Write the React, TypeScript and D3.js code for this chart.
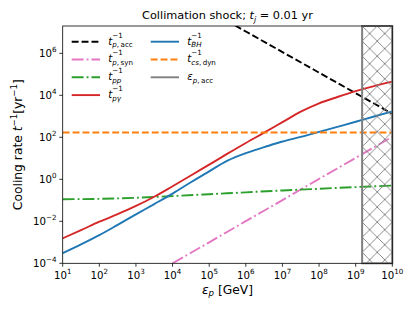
import React, { useRef, useEffect } from "react";
import * as d3 from "d3";

// values: log10(energy / GeV) and log10(rate / yr^-1)
const logE = [1, 1.5, 2, 2.5, 3, 3.5, 4, 4.5, 5, 5.5, 6, 6.5, 7, 7.5, 8, 8.5, 9, 9.5, 10];
const pgLog = [-2.81, -2.42, -2.02, -1.66, -1.27, -0.83, -0.33, 0.18, 0.7, 1.22, 1.73, 2.22, 2.72, 3.22, 3.62, 3.92, 4.2, 4.44, 4.65];
const bhLog = [-3.52, -3.1, -2.66, -2.17, -1.67, -1.18, -0.68, -0.14, 0.38, 0.89, 1.25, 1.53, 1.8, 2.02, 2.26, 2.5, 2.74, 2.99, 3.23];
const ppE = [1, 2, 3, 4, 5, 6, 7, 8, 9, 10];
const ppLog = [-0.95, -0.93, -0.88, -0.8, -0.71, -0.62, -0.53, -0.45, -0.37, -0.3];
const synE = [4, 5, 6, 7, 8, 9, 10];
const synLog = [-4, -3.0, -1.99, -0.99, 0.02, 1.02, 2.03];
const accE = [5, 6, 7, 8, 9, 10];
const accLog = [8.02, 7.04, 6.06, 5.08, 4.1, 3.12];
const dynE = [1, 10];
const dynLog = [2.23, 2.23];
const epsAcc = 1.5e9;

const xTicks = [1, 2, 3, 4, 5, 6, 7, 8, 9, 10];
const yTicks = [-4, -2, 0, 2, 4, 6];

type Part = { s: string; it?: boolean; pos?: "sup" | "sub" };

const series = [
  { key: "acc", e: accE, v: accLog, color: "#000000", dash: "6.9,3" },
  { key: "syn", e: synE, v: synLog, color: "#e377c2", dash: "11.9,3,1.9,3" },
  { key: "pp", e: ppE, v: ppLog, color: "#2ca02c", dash: "11.9,3,1.9,3" },
  { key: "pg", e: logE, v: pgLog, color: "#d62728", dash: "" },
  { key: "bh", e: logE, v: bhLog, color: "#1f77b4", dash: "" },
  { key: "dyn", e: dynE, v: dynLog, color: "#ff7f0e", dash: "6.9,3" },
];

const tInv = (sub: Part[]): Part[] => [{ s: "t", it: true }, { s: "\u22121", pos: "sup" }, ...sub];

const legend: { col: number; row: number; color: string; dash: string; label: Part[] }[] = [
  { col: 0, row: 0, color: "#000000", dash: "6.9,3", label: tInv([{ s: "p", it: true, pos: "sub" }, { s: ",\u2009acc", pos: "sub" }]) },
  { col: 0, row: 1, color: "#e377c2", dash: "11.9,3,1.9,3", label: tInv([{ s: "p", it: true, pos: "sub" }, { s: ",\u2009syn", pos: "sub" }]) },
  { col: 0, row: 2, color: "#2ca02c", dash: "11.9,3,1.9,3", label: tInv([{ s: "pp", it: true, pos: "sub" }]) },
  { col: 0, row: 3, color: "#d62728", dash: "", label: tInv([{ s: "p\u03b3", it: true, pos: "sub" }]) },
  { col: 1, row: 0, color: "#1f77b4", dash: "", label: tInv([{ s: "BH", it: true, pos: "sub" }]) },
  { col: 1, row: 1, color: "#ff7f0e", dash: "6.9,3", label: tInv([{ s: "cs", it: true, pos: "sub" }, { s: ",\u2009dyn", pos: "sub" }]) },
  { col: 1, row: 2, color: "#7f7f7f", dash: "", label: [{ s: "\u03b5", it: true }, { s: "p", it: true, pos: "sub" }, { s: ",\u2009acc", pos: "sub" }] },
];

const W = 415;
const H = 312;
const L = 62.7, R = 392.3, T = 26, B = 263.3;
const FONT = "DejaVu Sans";

type G = d3.Selection<SVGGElement, unknown, null, undefined>;

// lays out text with sub/superscripts, returns the total advance width
function mathText(g: G, parts: Part[], fs: number, up: number, down: number) {
  const text = g.append("text").attr("font-size", fs).attr("font-family", FONT).attr("fill", "#000").style("white-space", "pre");
  let cur = 0, sStart = 0, posCur = 0, groupEnd = 0;
  let last: string | null = null;
  parts.forEach((p) => {
    let x0 = cur;
    if (p.pos) {
      if (last === null) { sStart = cur; groupEnd = cur; x0 = cur; }
      else if (last !== p.pos) x0 = sStart;
      else x0 = posCur;
    }
    const ts = text.append("tspan")
      .attr("x", x0)
      .attr("y", p.pos === "sup" ? -up : p.pos === "sub" ? down : 0)
      .attr("font-size", p.pos ? fs * 0.7 : fs)
      .attr("font-style", p.it ? "italic" : "normal")
      .text(p.s);
    const w = (ts.node() as SVGTSpanElement).getComputedTextLength();
    if (p.pos) {
      posCur = x0 + w;
      groupEnd = Math.max(groupEnd, posCur);
      cur = groupEnd;
      last = p.pos;
    } else {
      cur = x0 + w;
      last = null;
    }
  });
  return cur;
}

export default function App() {
  const ref = useRef<SVGSVGElement>(null);

  useEffect(() => {
    if (!ref.current) return;
    document.body.style.margin = "0";
    const svg = d3.select(ref.current);
    svg.selectAll("*").remove();

    const x = d3.scaleLog().domain([10, 1e10]).range([L, R]);
    const y = d3.scaleLog().domain([1e-4, 2e7]).range([B, T]);

    const defs = svg.append("defs");
    defs.append("clipPath").attr("id", "plot").append("rect")
      .attr("x", L).attr("y", T).attr("width", R - L).attr("height", B - T);
    const hw = (R - x(epsAcc)) / 2;
    const pat = defs.append("pattern").attr("id", "hatch")
      .attr("patternUnits", "userSpaceOnUse")
      .attr("x", x(epsAcc)).attr("y", T)
      .attr("width", hw).attr("height", hw);
    pat.append("path")
      .attr("d", `M-1,-1L${hw + 1},${hw + 1}M-1,${hw + 1}L${hw + 1},-1`)
      .attr("stroke", "#7f7f7f").attr("stroke-width", 0.9).attr("fill", "none");

    svg.append("rect").attr("width", W).attr("height", H).attr("fill", "#fff");

    const plot = svg.append("g").attr("clip-path", "url(#plot)");

    // hatched region beyond the maximum accelerated energy
    svg.append("rect")
      .attr("x", x(epsAcc)).attr("y", T)
      .attr("width", R - x(epsAcc)).attr("height", B - T)
      .attr("fill", "url(#hatch)").attr("stroke", "#7f7f7f").attr("stroke-width", 2);

    const line = d3.line<[number, number]>()
      .x((d) => x(10 ** d[0]))
      .y((d) => y(10 ** d[1]))
      .curve(d3.curveMonotoneX);

    series.forEach((s) => {
      plot.append("path")
        .datum(s.e.map((e, i) => [e, s.v[i]] as [number, number]))
        .attr("d", line)
        .attr("fill", "none")
        .attr("stroke", s.color)
        .attr("stroke-width", 1.9)
        .attr("stroke-dasharray", s.dash || null);
    });

    // spines
    svg.append("rect").attr("x", L).attr("y", T).attr("width", R - L).attr("height", B - T)
      .attr("fill", "none").attr("stroke", "#000").attr("stroke-width", 0.8);

    // x ticks
    xTicks.forEach((t) => {
      const px = x(10 ** t);
      svg.append("line").attr("x1", px).attr("x2", px).attr("y1", B).attr("y2", B + 3.4)
        .attr("stroke", "#000").attr("stroke-width", 0.8);
      const g = svg.append("g");
      const w = mathText(g, [{ s: "10" }, { s: String(t), pos: "sup" }], 10.2, 5.2, 0);
      g.attr("transform", `translate(${px - w / 2},279.3)`);
    });

    // y ticks
    yTicks.forEach((t) => {
      const py = y(10 ** t);
      svg.append("line").attr("x1", L - 3.4).attr("x2", L).attr("y1", py).attr("y2", py)
        .attr("stroke", "#000").attr("stroke-width", 0.8);
      const g = svg.append("g");
      const w = mathText(g, [{ s: "10" }, { s: (t < 0 ? "\u2212" : "") + Math.abs(t), pos: "sup" }], 10.2, 4.8, 0);
      g.attr("transform", `translate(${56.5 - w},${py + 3.5})`);
    });

    // title
    const tg = svg.append("g");
    const tw = mathText(tg, [
      { s: "Collimation shock; " },
      { s: "t", it: true },
      { s: "j", it: true, pos: "sub" },
      { s: " = 0.01 yr" },
    ], 11.3, 4, 2.6);
    tg.attr("transform", `translate(${(L + R) / 2 - tw / 2},19.3)`);

    // axis labels
    const xg = svg.append("g");
    const xw = mathText(xg, [{ s: "\u03b5", it: true }, { s: "p", it: true, pos: "sub" }, { s: " [GeV]" }], 12.3, 4, 2.8);
    xg.attr("transform", `translate(${(L + R) / 2 - xw / 2},293.5)`);

    const yg = svg.append("g");
    const yw = mathText(yg, [
      { s: "Cooling rate " },
      { s: "t", it: true },
      { s: "\u22121", pos: "sup" },
      { s: "[yr" },
      { s: "\u22121", pos: "sup" },
      { s: "]" },
    ], 12.3, 5.2, 0);
    yg.attr("transform", `translate(22,${(T + B) / 2}) rotate(-90) translate(${-yw / 2},0)`);

    // legend
    legend.forEach((d) => {
      const ry = 41.7 + d.row * 17.8;
      const hx = d.col === 0 ? 71.7 : 150.7;
      svg.append("line").attr("x1", hx).attr("x2", hx + 28.3).attr("y1", ry).attr("y2", ry)
        .attr("stroke", d.color).attr("stroke-width", 1.9)
        .attr("stroke-dasharray", d.dash || null);
      const g = svg.append("g").attr("transform", `translate(${hx + 36.6},${ry + 2.8})`);
      mathText(g, d.label, 10.2, 7, 2.6);
    });
  }, []);

  return <svg ref={ref} width={W} height={H} style={{ display: "block" }} />;
}
